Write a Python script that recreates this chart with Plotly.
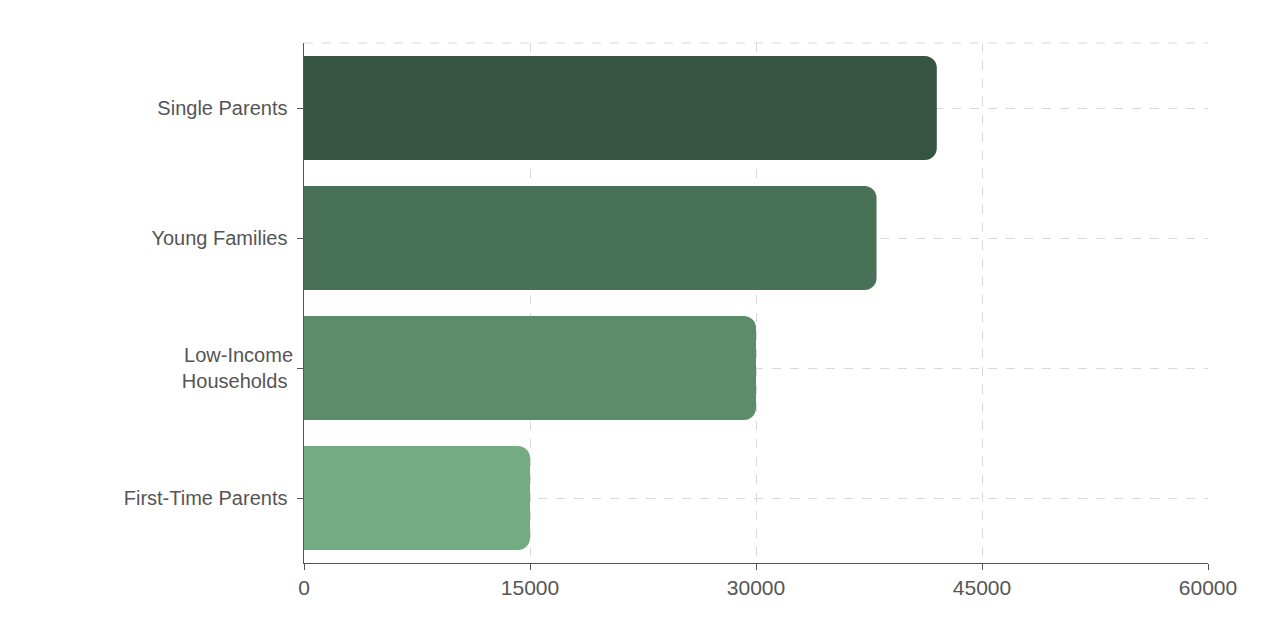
import plotly.graph_objects as go

categories = ["First-Time Parents", "Low-Income<br>Households", "Young Families", "Single Parents"]
values = [15000, 30000, 38000, 42000]
colors = ["#73ac82", "#5d8c6a", "#487157", "#355441"]
x_ticks = [0, 15000, 30000, 45000, 60000]

fig = go.Figure(go.Bar(y=categories, x=values, orientation="h", marker=dict(color=colors, line=dict(width=0))))
fig.update_layout(
    width=1264, height=638, plot_bgcolor="white", paper_bgcolor="white",
    margin=dict(l=296, r=64, t=35, b=83), bargap=0.2, barcornerradius=12,
    font=dict(family="Liberation Sans, Arial, sans-serif", size=20, color="#555555"),
    showlegend=False,
    shapes=[dict(type="line", xref="paper", yref="paper", x0=0, x1=1, y0=1, y1=1,
                 line=dict(color="#d9d9d9", width=1, dash="dash"))],
)
fig.update_xaxes(range=[0, 60000], tickvals=x_ticks, ticktext=[str(v) for v in x_ticks],
                 showgrid=True, gridcolor="#d9d9d9", griddash="dash", zeroline=False,
                 showline=True, linecolor="#555555", ticks="outside", ticklen=6, tickcolor="#555555",
                 tickfont=dict(size=21))
fig.update_yaxes(showgrid=True, gridcolor="#d9d9d9", griddash="dash",
                 showline=True, linecolor="#555555", ticks="outside", ticklen=6, tickcolor="#555555",
                 ticksuffix=" ")
fig.write_html("out.html")
